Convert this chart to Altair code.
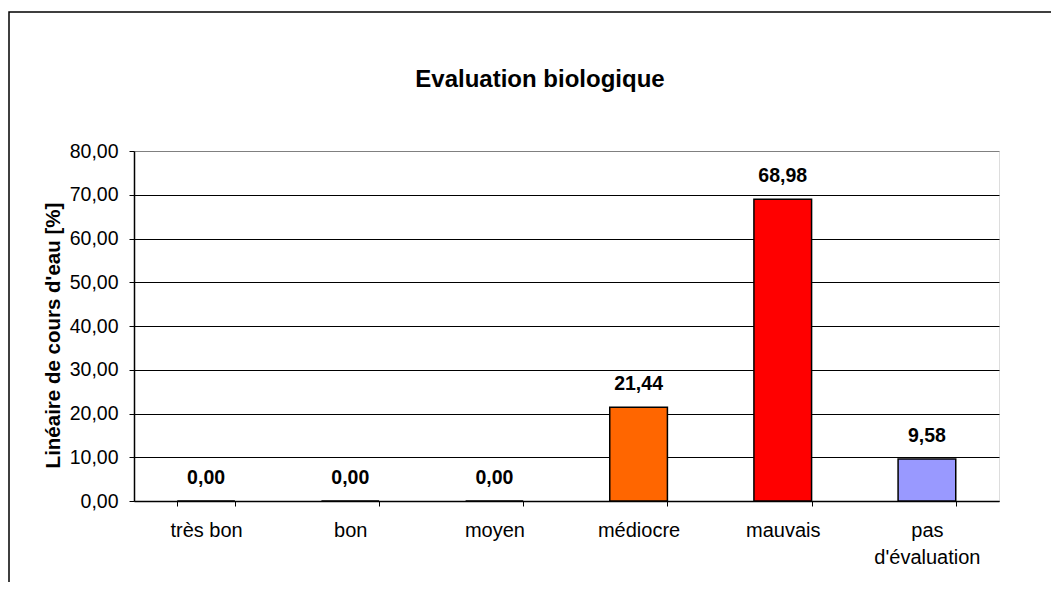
import altair as alt
import pandas as pd

categories = ["très bon", "bon", "moyen", "médiocre", "mauvais", "pas d'évaluation"]
values = [0.00, 0.00, 0.00, 21.44, 68.98, 9.58]
colors = ["#0000FF", "#00FF00", "#FFFF00", "#FF6600", "#FF0000", "#9999FF"]
y_ticks = [0, 10, 20, 30, 40, 50, 60, 70, 80]
chart_title = "Evaluation biologique"
y_title = "Linéaire de cours d'eau [%]"

df = pd.DataFrame({"cat": categories, "val": values, "col": colors})

FONT = "Liberation Sans"

base = alt.Chart(df)

x_enc = alt.X(
    "cat:N",
    sort=categories,
    scale=alt.Scale(paddingInner=0.6, paddingOuter=0.3),
    axis=alt.Axis(
        title=None,
        labelAngle=0,
        tickBand="extent",
        tickSize=5,
        tickColor="black",
        domainColor="black",
        domainWidth=1.5,
        labelFont=FONT,
        labelFontSize=20,
        labelColor="black",
        labelPadding=14,
        labelLineHeight=27,
        labelExpr="datum.value == \"pas d'évaluation\" ? ['pas', \"d'évaluation\"] : datum.value",
        grid=False,
    ),
)

y_enc = alt.Y(
    "val:Q",
    scale=alt.Scale(domain=[0, 80], nice=False, zero=True),
    axis=alt.Axis(
        title=y_title,
        values=y_ticks,
        labelExpr="replace(format(datum.value, '.2f'), '.', ',')",
        labelFont=FONT,
        labelFontSize=19.5,
        labelColor="black",
        labelPadding=11,
        tickSize=5,
        tickColor="black",
        domainColor="black",
        domainWidth=1.5,
        grid=True,
        gridColor=alt.ConditionalAxisColor(
            condition={"test": "datum.value == 80", "value": "#808080"}, value="#000000"
        ),
        gridWidth=1,
        titleFont=FONT,
        titleFontSize=20.5,
        titleFontWeight="bold",
        titleColor="black",
        titleAngle=-90,
        titleAlign="center",
        titleBaseline="middle",
        titleX=-81,
        titleY=184,
    ),
)

bars = base.mark_bar(stroke="black", strokeWidth=1.5).encode(
    x=x_enc,
    y=y_enc,
    color=alt.Color("col:N", scale=None),
)

labels = base.transform_calculate(
    lab="replace(format(datum.val, '.2f'), '.', ',')"
).mark_text(
    font=FONT, fontSize=19.5, fontWeight="bold", color="black", baseline="alphabetic", dy=-17
).encode(
    x=alt.X("cat:N", sort=categories),
    y=alt.Y("val:Q"),
    text="lab:N",
)

deco = alt.Data(values=[{"t": chart_title}])

border = alt.Chart(deco).mark_rect(
    fill="white", fillOpacity=0, stroke="black", strokeWidth=1.5
).encode(
    x=alt.value(-125), x2=alt.value(1000), y=alt.value(-139), y2=alt.value(600)
)

title = alt.Chart(deco).mark_text(
    font=FONT, fontSize=24, fontWeight="bold", color="black",
    align="center", baseline="alphabetic"
).encode(
    x=alt.value(406), y=alt.value(-64), text="t:N"
)

chart = alt.layer(border, title, bars, labels).properties(
    width=865,
    height=350,
    autosize=alt.AutoSizeParams(type="none"),
    padding={"left": 126, "top": 143, "right": 52, "bottom": 81},
).configure_view(
    stroke="#808080", strokeWidth=2
).configure(background="white")

chart.save("out.html", embed_options={"renderer": "svg", "actions": False})
